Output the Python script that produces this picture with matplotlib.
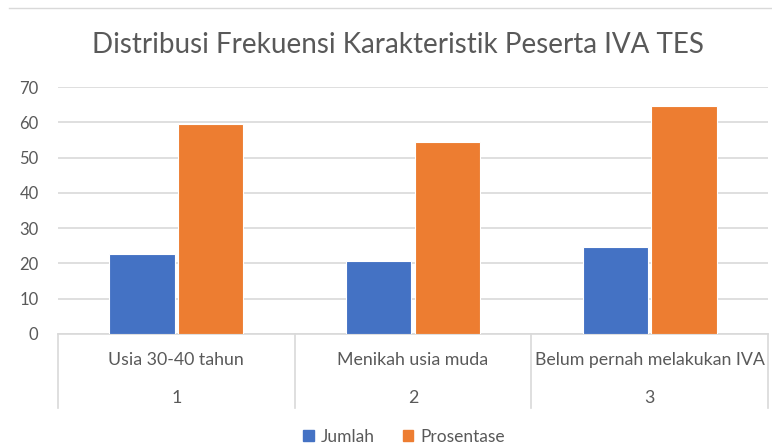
import matplotlib.pyplot as plt
from matplotlib.lines import Line2D
from matplotlib.patches import Patch
import numpy as np

categories = ['Usia 30-40 tahun', 'Menikah usia muda', 'Belum pernah melakukan IVA']
numbers = ['1', '2', '3']
jumlah = [22.7, 20.6, 24.7]
prosentase = [59.5, 54.5, 64.7]
series = ['Jumlah', 'Prosentase']
colors = ['#4472C4', '#ED7D31']

plt.rcParams['font.family'] = ['Lato', 'DejaVu Sans']
gray = '#595959'
grid = '#D9D9D9'

fig = plt.figure(figsize=(7.72, 4.45), dpi=100)
ax = fig.add_axes([58 / 772, 1 - 334 / 445, 710 / 772, 247 / 445])

x = np.arange(len(categories)) + 0.5
w = 0.275
ax.bar(x - 0.145, jumlah, w, color=colors[0], edgecolor='white', linewidth=0.8, zorder=3)
ax.bar(x + 0.145, prosentase, w, color=colors[1], edgecolor='white', linewidth=0.8, zorder=3)

ax.set_xlim(0, 3)
ax.set_ylim(0, 70)
ax.set_yticks(range(0, 71, 10))
ax.yaxis.grid(True, color=grid, linewidth=1.2, zorder=0)
ax.tick_params(axis='y', length=0, labelsize=12, labelcolor=gray, pad=14)
ax.set_xticks([])
for s in ['left', 'right', 'top']:
    ax.spines[s].set_visible(False)
ax.spines['bottom'].set_color(grid)
ax.spines['bottom'].set_linewidth(1.2)

# multi-level category axis
for b in range(len(categories) + 1):
    ax.add_line(Line2D([b, b], [0, -0.30], transform=ax.get_xaxis_transform(),
                       color=grid, linewidth=1.2, clip_on=False))
for i, (c, n) in enumerate(zip(categories, numbers)):
    ax.text(x[i], -0.105, c, transform=ax.get_xaxis_transform(), ha='center', va='center',
            fontsize=12.8, color=gray)
    ax.text(x[i], -0.26, n, transform=ax.get_xaxis_transform(), ha='center', va='center',
            fontsize=12.8, color=gray)

fig.text(398 / 772, 1 - 45 / 445, 'Distribusi Frekuensi Karakteristik Peserta IVA TES',
         ha='center', va='center', fontsize=20, color=gray)

# top border line
fig.add_artist(Line2D([9 / 772, 1], [1 - 8 / 445, 1 - 8 / 445], color=grid, linewidth=1))

handles = [Patch(color=c) for c in colors]
fig.legend(handles, series, loc='center', bbox_to_anchor=(404 / 772, 1 - 437 / 445), ncol=2,
           frameon=False, fontsize=12.5, labelcolor=gray, handlelength=0.6, handleheight=0.6,
           handletextpad=0.4, columnspacing=1.6)

fig.savefig('out.png', dpi=100)
